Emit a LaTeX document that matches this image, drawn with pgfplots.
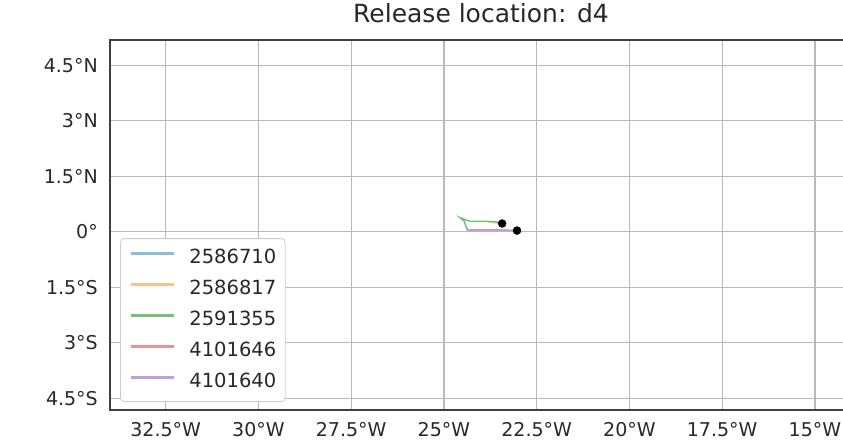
\documentclass[border=0pt]{standalone}
\usepackage{pgfplots}
\pgfplotsset{compat=1.18}
\usepackage{fontspec}
\setmainfont{DejaVu Sans}
\definecolor{cblue}{RGB}{143,187,217}
\definecolor{corange}{RGB}{255,191,134}
\definecolor{cgreen}{RGB}{120,190,120}
\definecolor{cred}{RGB}{234,147,148}
\definecolor{cpurple}{RGB}{190,160,215}
\definecolor{gridc}{RGB}{185,185,185}
\definecolor{txt}{RGB}{40,40,40}
\begin{document}
\begin{tikzpicture}
\begin{axis}[
  name=ax,
  scale only axis,
  width=742pt, height=370pt,
  xmin=-34, xmax=-14,
  ymin=-4.82, ymax=5.18,
  axis line style={line width=1.6pt, black!75},
  grid=major,
  grid style={line width=1.3pt, gridc},
  major tick length=0pt,
  xtick={-32.5,-30,-27.5,-25,-22.5,-20,-17.5,-15},
  xticklabels={32.5°W,30°W,27.5°W,25°W,22.5°W,20°W,17.5°W,15°W},
  ytick={-4.5,-3,-1.5,0,1.5,3,4.5},
  yticklabels={4.5°S,3°S,1.5°S,0°,1.5°N,3°N,4.5°N},
  tick label style={font=\fontsize{19}{22}\selectfont, text=txt},
  xticklabel style={anchor=north, inner sep=0pt, yshift=-12pt},
  yticklabel style={anchor=east, inner sep=0pt, xshift=-12pt},
  title={Release location: d4},
  title style={at={(0.5,1)}, anchor=base, yshift=12pt, inner sep=0pt, font=\fontsize{25}{30}\selectfont, text=txt},
  legend style={at={(0.0135,0.0216)}, anchor=south west, draw=black!20, line width=0.8pt, rounded corners=4pt, fill=white,
    inner xsep=9pt, inner ysep=10pt, font=\fontsize{19.5}{22}\selectfont, text=txt,
    row sep=12pt, column sep=14pt,
    nodes={inner sep=0pt, text height=15pt, text depth=4pt}},
  legend cell align=left,
  legend image code/.code={\draw[#1, line width=3pt] (0pt,5pt) -- (43pt,5pt);},
]
\addplot[cblue, line width=1.5pt] coordinates {(-23.43,0.22) (-23.55,0.24) (-23.7,0.25)};
\addlegendentry{2586710}
\addplot[corange, line width=1.5pt] coordinates {(-23.43,0.22) (-23.6,0.25) (-23.8,0.26)};
\addlegendentry{2586817}
\addplot[cgreen, line width=1.5pt] coordinates {(-23.43,0.22) (-23.6,0.27) (-24.0,0.28) (-24.3,0.28) (-24.57,0.38) (-24.45,0.28) (-24.4,0.12) (-24.35,0.05) (-24.2,0.04)};
\addlegendentry{2591355}
\addplot[cred, line width=1.5pt] coordinates {(-23.03,0.03) (-23.3,0.04) (-23.7,0.05) (-24.1,0.05) (-24.3,0.05)};
\addlegendentry{4101646}
\addplot[cpurple, line width=1.5pt] coordinates {(-23.03,0.03) (-23.4,0.04) (-23.8,0.035) (-24.2,0.035) (-24.4,0.05)};
\addlegendentry{4101640}
\addplot[only marks, mark=*, mark size=4pt, black, forget plot] coordinates {(-23.43,0.22) (-23.03,0.03)};
\end{axis}
\pgfresetboundingbox
\path[use as bounding box] ([shift={(-110pt,-32pt)}]ax.south west) rectangle ([shift={(733pt,410pt)}]ax.south west);
\end{tikzpicture}
\end{document}
